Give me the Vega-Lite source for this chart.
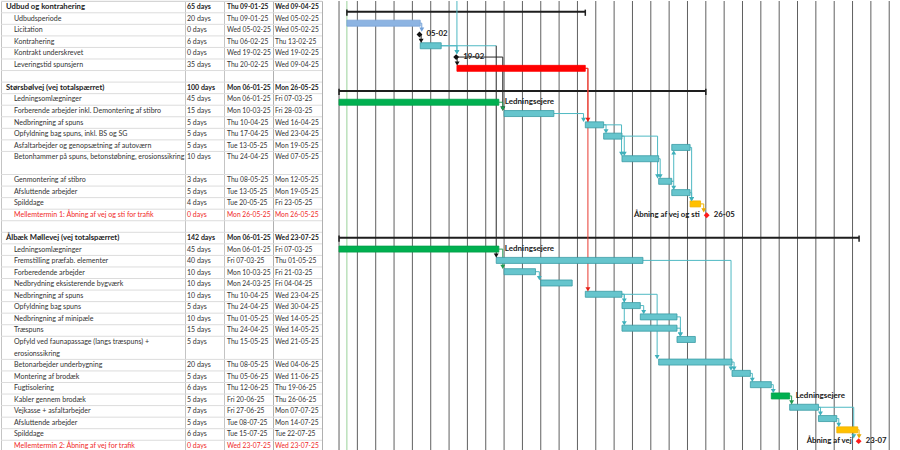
{
  "$schema": "https://vega.github.io/schema/vega-lite/v6.json",
  "background": "white",
  "padding": 0,
  "spacing": 0,
  "bounds": "flush",
  "config": {"view": {"stroke": null}},
  "datasets": {
    "tasks": [
      {"row": 0, "lvl": "sum", "name": "Udbud og kontrahering", "dur": "65 days", "st": "Thu 09-01-25", "fi": "Wed 09-04-25", "s": "2025-01-09", "e": "2025-04-10"},
      {"row": 1, "lvl": "task", "name": "Udbudsperiode", "dur": "20 days", "st": "Thu 09-01-25", "fi": "Wed 05-02-25", "s": "2025-01-09", "e": "2025-02-06", "kind": "blue"},
      {"row": 2, "lvl": "task", "name": "Licitation", "dur": "0 days", "st": "Wed 05-02-25", "fi": "Wed 05-02-25", "m": "2025-02-05T17:00:00Z", "kind": "ms", "lab": "05-02"},
      {"row": 3, "lvl": "task", "name": "Kontrahering", "dur": "6 days", "st": "Thu 06-02-25", "fi": "Thu 13-02-25", "s": "2025-02-06", "e": "2025-02-14", "kind": "teal"},
      {"row": 4, "lvl": "task", "name": "Kontrakt underskrevet", "dur": "0 days", "st": "Wed 19-02-25", "fi": "Wed 19-02-25", "m": "2025-02-19T17:00:00Z", "kind": "ms", "lab": "19-02"},
      {"row": 5, "lvl": "task", "name": "Leveringstid spunsjern", "dur": "35 days", "st": "Thu 20-02-25", "fi": "Wed 09-04-25", "s": "2025-02-20", "e": "2025-04-10", "kind": "red"},
      {"row": 6, "lvl": "blank"},
      {"row": 7, "lvl": "sum", "name": "Størsbølvej (vej totalspærret)", "dur": "100 days", "st": "Mon 06-01-25", "fi": "Mon 26-05-25", "s": "2025-01-06", "e": "2025-05-26"},
      {"row": 8, "lvl": "task", "name": "Ledningsomlægninger", "dur": "45 days", "st": "Mon 06-01-25", "fi": "Fri 07-03-25", "s": "2025-01-06", "e": "2025-03-08", "kind": "green", "lab": "Ledningsejere"},
      {"row": 9, "lvl": "task", "name": "Forberende arbejder inkl. Demontering af stibro", "dur": "15 days", "st": "Mon 10-03-25", "fi": "Fri 28-03-25", "s": "2025-03-10", "e": "2025-03-29", "kind": "teal"},
      {"row": 10, "lvl": "task", "name": "Nedbringning af spuns", "dur": "5 days", "st": "Thu 10-04-25", "fi": "Wed 16-04-25", "s": "2025-04-10", "e": "2025-04-17", "kind": "teal"},
      {"row": 11, "lvl": "task", "name": "Opfyldning bag spuns, inkl. BS og SG", "dur": "5 days", "st": "Thu 17-04-25", "fi": "Wed 23-04-25", "s": "2025-04-17", "e": "2025-04-24", "kind": "teal"},
      {"row": 12, "lvl": "task", "name": "Asfaltarbejder og genopsætning af autoværn", "dur": "5 days", "st": "Tue 13-05-25", "fi": "Mon 19-05-25", "s": "2025-05-13", "e": "2025-05-20", "kind": "teal"},
      {"row": 13, "lvl": "task", "name": "Betonhammer på spuns, betonstøbning, erosionssikring", "dur": "10 days", "st": "Thu 24-04-25", "fi": "Wed 07-05-25", "s": "2025-04-24", "e": "2025-05-08", "kind": "teal"},
      {"row": 14, "lvl": "cont"},
      {"row": 15, "lvl": "task", "name": "Genmontering af stibro", "dur": "3 days", "st": "Thu 08-05-25", "fi": "Mon 12-05-25", "s": "2025-05-08", "e": "2025-05-13", "kind": "teal"},
      {"row": 16, "lvl": "task", "name": "Afsluttende arbejder", "dur": "5 days", "st": "Tue 13-05-25", "fi": "Mon 19-05-25", "s": "2025-05-13", "e": "2025-05-20", "kind": "teal"},
      {"row": 17, "lvl": "task", "name": "Spilddage", "dur": "4 days", "st": "Tue 20-05-25", "fi": "Fri 23-05-25", "s": "2025-05-20", "e": "2025-05-24", "kind": "yellow"},
      {"row": 18, "lvl": "task", "name": "Mellemtermin 1: Åbning af vej og sti for trafik", "dur": "0 days", "st": "Mon 26-05-25", "fi": "Mon 26-05-25", "m": "2025-05-26T08:00:00Z", "kind": "mr", "lab": "26-05", "labL": "Åbning af vej og sti", "hot": true},
      {"row": 19, "lvl": "blank"},
      {"row": 20, "lvl": "sum", "name": "Ålbæk Møllevej (vej totalspærret)", "dur": "142 days", "st": "Mon 06-01-25", "fi": "Wed 23-07-25", "s": "2025-01-06", "e": "2025-07-23T12:00:00Z"},
      {"row": 21, "lvl": "task", "name": "Ledningsomlægninger", "dur": "45 days", "st": "Mon 06-01-25", "fi": "Fri 07-03-25", "s": "2025-01-06", "e": "2025-03-08", "kind": "green", "lab": "Ledningsejere"},
      {"row": 22, "lvl": "task", "name": "Fremstilling præfab. elementer", "dur": "40 days", "st": "Fri 07-03-25", "fi": "Thu 01-05-25", "s": "2025-03-07", "e": "2025-05-02", "kind": "teal"},
      {"row": 23, "lvl": "task", "name": "Forberedende arbejder", "dur": "10 days", "st": "Mon 10-03-25", "fi": "Fri 21-03-25", "s": "2025-03-10", "e": "2025-03-22", "kind": "teal"},
      {"row": 24, "lvl": "task", "name": "Nedbrydning eksisterende bygværk", "dur": "10 days", "st": "Mon 24-03-25", "fi": "Fri 04-04-25", "s": "2025-03-24", "e": "2025-04-05", "kind": "teal"},
      {"row": 25, "lvl": "task", "name": "Nedbringning af spuns", "dur": "10 days", "st": "Thu 10-04-25", "fi": "Wed 23-04-25", "s": "2025-04-10", "e": "2025-04-24", "kind": "teal"},
      {"row": 26, "lvl": "task", "name": "Opfyldning bag spuns", "dur": "5 days", "st": "Thu 24-04-25", "fi": "Wed 30-04-25", "s": "2025-04-24", "e": "2025-05-01", "kind": "teal"},
      {"row": 27, "lvl": "task", "name": "Nedbringning af minipæle", "dur": "10 days", "st": "Thu 01-05-25", "fi": "Wed 14-05-25", "s": "2025-05-01", "e": "2025-05-15", "kind": "teal"},
      {"row": 28, "lvl": "task", "name": "Træspuns", "dur": "15 days", "st": "Thu 24-04-25", "fi": "Wed 14-05-25", "s": "2025-04-24", "e": "2025-05-15", "kind": "teal"},
      {"row": 29, "lvl": "task", "name": "Opfyld ved faunapassage (langs træspuns) +", "dur": "5 days", "st": "Thu 15-05-25", "fi": "Wed 21-05-25", "s": "2025-05-15", "e": "2025-05-22", "kind": "teal"},
      {"row": 30, "lvl": "cont", "name": "erosionssikring"},
      {"row": 31, "lvl": "task", "name": "Betonarbejder underbygning", "dur": "20 days", "st": "Thu 08-05-25", "fi": "Wed 04-06-25", "s": "2025-05-08", "e": "2025-06-05", "kind": "teal"},
      {"row": 32, "lvl": "task", "name": "Montering af brodæk", "dur": "5 days", "st": "Thu 05-06-25", "fi": "Wed 11-06-25", "s": "2025-06-05", "e": "2025-06-12", "kind": "teal"},
      {"row": 33, "lvl": "task", "name": "Fugtisolering", "dur": "6 days", "st": "Thu 12-06-25", "fi": "Thu 19-06-25", "s": "2025-06-12", "e": "2025-06-20", "kind": "teal"},
      {"row": 34, "lvl": "task", "name": "Kabler gennem brodæk", "dur": "5 days", "st": "Fri 20-06-25", "fi": "Thu 26-06-25", "s": "2025-06-20", "e": "2025-06-27", "kind": "green", "lab": "Ledningsejere"},
      {"row": 35, "lvl": "task", "name": "Vejkasse + asfaltarbejder", "dur": "7 days", "st": "Fri 27-06-25", "fi": "Mon 07-07-25", "s": "2025-06-27", "e": "2025-07-08", "kind": "teal"},
      {"row": 36, "lvl": "task", "name": "Afsluttende arbejder", "dur": "5 days", "st": "Tue 08-07-25", "fi": "Mon 14-07-25", "s": "2025-07-08", "e": "2025-07-15", "kind": "teal"},
      {"row": 37, "lvl": "task", "name": "Spilddage", "dur": "6 days", "st": "Tue 15-07-25", "fi": "Tue 22-07-25", "s": "2025-07-15", "e": "2025-07-23", "kind": "yellow"},
      {"row": 38, "lvl": "task", "name": "Mellemtermin 2: Åbning af vej for trafik", "dur": "0 days", "st": "Wed 23-07-25", "fi": "Wed 23-07-25", "m": "2025-07-23T08:00:00Z", "kind": "mr", "lab": "23-07", "labL": "Åbning af vej", "hot": true}
    ],
    "links": [
      {"pe": "2025-02-06", "el": "2025-02-06T14:00:00Z", "r1": 1, "r2": 2, "hc": "blue", "vc": "blue"},
      {"pe": "2025-02-05T17:00:00Z", "el": "2025-02-06T08:00:00Z", "r1": 2, "r2": 3, "hc": "black", "vc": "black"},
      {"pe": "2025-02-14", "el": "2025-02-20", "r1": 3, "r2": 4, "hc": "teal", "vc": "teal"},
      {"pe": "2025-02-20", "el": "2025-02-20", "r1": -2, "r2": 4, "hc": "teal", "vc": "teal"},
      {"pe": "2025-02-19T17:00:00Z", "el": "2025-02-20T02:00:00Z", "r1": 4, "r2": 5, "hc": "black", "vc": "black"},
      {"pe": "2025-02-19T17:00:00Z", "el": "2025-03-09T12:00:00Z", "r1": 4, "r2": 9, "hc": "black", "vc": "black"},
      {"pe": "2025-02-14", "el": "2025-03-07", "r1": 3, "r2": 22, "hc": "teal", "vc": "black"},
      {"pe": "2025-03-08", "el": "2025-03-09T12:00:00Z", "r1": 8, "r2": 9, "hc": "green", "vc": "green"},
      {"pe": "2025-03-08", "el": "2025-03-09T12:00:00Z", "r1": 21, "r2": 23, "hc": "green", "vc": "green"},
      {"pe": "2025-03-29", "el": "2025-04-09T08:00:00Z", "r1": 9, "r2": 10, "hc": "teal", "vc": "teal"},
      {"pe": "2025-04-10", "el": "2025-04-11", "r1": 5, "r2": 10, "hc": "red", "vc": "red"},
      {"pe": "2025-04-10", "el": "2025-04-11", "r1": 5, "r2": 25, "hc": "red", "vc": "red"},
      {"pe": "2025-04-17", "el": "2025-04-17T22:00:00Z", "r1": 10, "r2": 11, "hc": "teal", "vc": "teal"},
      {"pe": "2025-04-17", "el": "2025-04-23T20:00:00Z", "r1": 10, "r2": 13, "hc": "teal", "vc": "teal"},
      {"pe": "2025-04-24", "el": "2025-04-24T21:00:00Z", "r1": 11, "r2": 13, "hc": "teal", "vc": "teal"},
      {"pe": "2025-04-24", "el": "2025-05-07T14:00:00Z", "r1": 11, "r2": 15, "hc": "teal", "vc": "teal"},
      {"pe": "2025-05-08", "el": "2025-05-08T14:00:00Z", "r1": 13, "r2": 15, "hc": "teal", "vc": "teal"},
      {"pe": "2025-05-13", "el": "2025-05-13T18:00:00Z", "r1": 15, "r2": 12, "hc": "teal", "vc": "teal"},
      {"pe": "2025-05-13", "el": "2025-05-13T18:00:00Z", "r1": 15, "r2": 16, "hc": "teal", "vc": "teal"},
      {"pe": "2025-05-20", "el": "2025-05-20T14:00:00Z", "r1": 12, "r2": 17, "hc": "teal", "vc": "teal"},
      {"pe": "2025-05-20", "el": "2025-05-20T14:00:00Z", "r1": 16, "r2": 17, "hc": "teal", "vc": "teal"},
      {"pe": "2025-05-24", "el": "2025-05-25T05:00:00Z", "r1": 17, "r2": 18, "hc": "yellow", "vc": "yellow"},
      {"pe": "2025-03-22", "el": "2025-03-23T11:00:00Z", "r1": 23, "r2": 24, "hc": "teal", "vc": "teal"},
      {"pe": "2025-04-24", "el": "2025-04-24T21:00:00Z", "r1": 25, "r2": 26, "hc": "teal", "vc": "teal"},
      {"pe": "2025-04-24", "el": "2025-04-24T21:00:00Z", "r1": 25, "r2": 28, "hc": "teal", "vc": "teal"},
      {"pe": "2025-04-24", "el": "2025-05-07T10:00:00Z", "r1": 25, "r2": 31, "hc": "teal", "vc": "teal"},
      {"pe": "2025-05-01", "el": "2025-05-02T07:00:00Z", "r1": 26, "r2": 27, "hc": "teal", "vc": "teal"},
      {"pe": "2025-05-15", "el": "2025-05-16T07:00:00Z", "r1": 27, "r2": 29, "hc": "teal", "vc": "teal"},
      {"pe": "2025-05-15", "el": "2025-05-16T07:00:00Z", "r1": 28, "r2": 29, "hc": "teal", "vc": "teal"},
      {"pe": "2025-05-02", "el": "2025-06-04T15:00:00Z", "r1": 22, "r2": 32, "hc": "teal", "vc": "teal"},
      {"pe": "2025-06-05", "el": "2025-06-05T19:00:00Z", "r1": 31, "r2": 32, "hc": "teal", "vc": "teal"},
      {"pe": "2025-06-12", "el": "2025-06-12T18:00:00Z", "r1": 32, "r2": 33, "hc": "teal", "vc": "teal"},
      {"pe": "2025-06-20", "el": "2025-06-20T18:00:00Z", "r1": 33, "r2": 34, "hc": "teal", "vc": "teal"},
      {"pe": "2025-06-27", "el": "2025-06-27T18:00:00Z", "r1": 34, "r2": 35, "hc": "green", "vc": "green"},
      {"pe": "2025-07-08", "el": "2025-07-08T18:00:00Z", "r1": 35, "r2": 36, "hc": "teal", "vc": "teal"},
      {"pe": "2025-07-15", "el": "2025-07-15T18:00:00Z", "r1": 36, "r2": 37, "hc": "teal", "vc": "teal"},
      {"pe": "2025-07-23", "el": "2025-07-23T12:00:00Z", "r1": 37, "r2": 38, "hc": "yellow", "vc": "yellow"},
      {"pe": "2025-07-08", "el": "2025-07-21T11:00:00Z", "r1": 35, "r2": 38, "hc": "teal", "vc": "teal"}
    ],
    "weeks": [
      {"d": "2025-01-06"}, {"d": "2025-01-13"}, {"d": "2025-01-20"}, {"d": "2025-01-27"},
      {"d": "2025-02-03"}, {"d": "2025-02-10"}, {"d": "2025-02-17"}, {"d": "2025-02-24"},
      {"d": "2025-03-03"}, {"d": "2025-03-10"}, {"d": "2025-03-17"}, {"d": "2025-03-24"}, {"d": "2025-03-31"},
      {"d": "2025-04-07"}, {"d": "2025-04-14"}, {"d": "2025-04-21"}, {"d": "2025-04-28"},
      {"d": "2025-05-05"}, {"d": "2025-05-12"}, {"d": "2025-05-19"}, {"d": "2025-05-26"},
      {"d": "2025-06-02"}, {"d": "2025-06-09"}, {"d": "2025-06-16"}, {"d": "2025-06-23"}, {"d": "2025-06-30"},
      {"d": "2025-07-07"}, {"d": "2025-07-14"}, {"d": "2025-07-21"}, {"d": "2025-07-28"},
      {"d": "2025-08-04"}
    ],
    "status": [{"d": "2025-01-09"}]
  },
  "hconcat": [
    {
      "width": 184, "height": 450,
      "view": {"stroke": "#c4c4c4"},
      "data": {"name": "tasks"},
      "layer": [
        {"transform": [{"filter": "datum.lvl != 'cont'"}, {"calculate": "datum.row - 0.5", "as": "top"}],
         "mark": {"type": "rule", "color": "#dcdcdc", "strokeWidth": 1},
         "encoding": {"y": {"field": "top", "type": "quantitative", "scale": {"domain": [-0.52, 38.43], "reverse": true, "nice": false, "zero": false}, "axis": null}}},
        {"transform": [{"filter": "datum.lvl == 'sum'"}],
         "mark": {"type": "text", "align": "left", "baseline": "middle", "dx": 5, "font": "Lato", "fontSize": 7.7, "fontWeight": "bold", "color": "#222"},
         "encoding": {"x": {"datum": 0, "type": "quantitative", "scale": {"domain": [0, 1]}, "axis": null},
                      "y": {"field": "row", "type": "quantitative", "scale": {"domain": [-0.52, 38.43], "reverse": true, "nice": false, "zero": false}, "axis": null},
                      "text": {"field": "name"}}},
        {"transform": [{"filter": "(datum.lvl == 'task' || datum.lvl == 'cont') && datum.name"}],
         "mark": {"type": "text", "align": "left", "baseline": "middle", "dx": 13, "font": "Lato", "fontSize": 7.05},
         "encoding": {"x": {"datum": 0, "type": "quantitative", "scale": {"domain": [0, 1]}, "axis": null},
                      "y": {"field": "row", "type": "quantitative", "scale": {"domain": [-0.52, 38.43], "reverse": true, "nice": false, "zero": false}, "axis": null},
                      "text": {"field": "name"},
                      "color": {"condition": {"test": "datum.hot === true", "value": "#f02828"}, "value": "#333333"}}}
      ]
    },
    {
      "width": 39, "height": 450,
      "view": {"stroke": "#c4c4c4"},
      "data": {"name": "tasks"},
      "layer": [
        {"transform": [{"filter": "datum.lvl != 'cont'"}, {"calculate": "datum.row - 0.5", "as": "top"}],
         "mark": {"type": "rule", "color": "#dcdcdc", "strokeWidth": 1},
         "encoding": {"y": {"field": "top", "type": "quantitative", "scale": {"domain": [-0.52, 38.43], "reverse": true, "nice": false, "zero": false}, "axis": null}}},
        {"transform": [{"filter": "datum.lvl == 'sum'"}],
         "mark": {"type": "text", "align": "left", "baseline": "middle", "dx": 2, "font": "Lato", "fontSize": 7, "fontWeight": "bold", "color": "#222"},
         "encoding": {"x": {"datum": 0, "type": "quantitative", "scale": {"domain": [0, 1]}, "axis": null},
                      "y": {"field": "row", "type": "quantitative", "scale": {"domain": [-0.52, 38.43], "reverse": true, "nice": false, "zero": false}, "axis": null},
                      "text": {"field": "dur"}}},
        {"transform": [{"filter": "datum.lvl == 'task' && datum.dur"}],
         "mark": {"type": "text", "align": "left", "baseline": "middle", "dx": 2, "font": "Lato", "fontSize": 7},
         "encoding": {"x": {"datum": 0, "type": "quantitative", "scale": {"domain": [0, 1]}, "axis": null},
                      "y": {"field": "row", "type": "quantitative", "scale": {"domain": [-0.52, 38.43], "reverse": true, "nice": false, "zero": false}, "axis": null},
                      "text": {"field": "dur"},
                      "color": {"condition": {"test": "datum.hot === true", "value": "#f02828"}, "value": "#333333"}}}
      ]
    },
    {
      "width": 49, "height": 450,
      "view": {"stroke": "#c4c4c4"},
      "data": {"name": "tasks"},
      "layer": [
        {"transform": [{"filter": "datum.lvl != 'cont'"}, {"calculate": "datum.row - 0.5", "as": "top"}],
         "mark": {"type": "rule", "color": "#dcdcdc", "strokeWidth": 1},
         "encoding": {"y": {"field": "top", "type": "quantitative", "scale": {"domain": [-0.52, 38.43], "reverse": true, "nice": false, "zero": false}, "axis": null}}},
        {"transform": [{"filter": "datum.lvl == 'sum'"}],
         "mark": {"type": "text", "align": "left", "baseline": "middle", "dx": 3, "font": "Lato", "fontSize": 6.7, "fontWeight": "bold", "color": "#222"},
         "encoding": {"x": {"datum": 0, "type": "quantitative", "scale": {"domain": [0, 1]}, "axis": null},
                      "y": {"field": "row", "type": "quantitative", "scale": {"domain": [-0.52, 38.43], "reverse": true, "nice": false, "zero": false}, "axis": null},
                      "text": {"field": "st"}}},
        {"transform": [{"filter": "datum.lvl == 'task' && datum.st"}],
         "mark": {"type": "text", "align": "left", "baseline": "middle", "dx": 3, "font": "Lato", "fontSize": 6.7},
         "encoding": {"x": {"datum": 0, "type": "quantitative", "scale": {"domain": [0, 1]}, "axis": null},
                      "y": {"field": "row", "type": "quantitative", "scale": {"domain": [-0.52, 38.43], "reverse": true, "nice": false, "zero": false}, "axis": null},
                      "text": {"field": "st"},
                      "color": {"condition": {"test": "datum.hot === true", "value": "#f02828"}, "value": "#333333"}}}
      ]
    },
    {
      "width": 49, "height": 450,
      "view": {"stroke": "#b0b0b0"},
      "data": {"name": "tasks"},
      "layer": [
        {"transform": [{"filter": "datum.lvl != 'cont'"}, {"calculate": "datum.row - 0.5", "as": "top"}],
         "mark": {"type": "rule", "color": "#dcdcdc", "strokeWidth": 1},
         "encoding": {"y": {"field": "top", "type": "quantitative", "scale": {"domain": [-0.52, 38.43], "reverse": true, "nice": false, "zero": false}, "axis": null}}},
        {"transform": [{"filter": "datum.lvl == 'sum'"}],
         "mark": {"type": "text", "align": "left", "baseline": "middle", "dx": 2, "font": "Lato", "fontSize": 6.7, "fontWeight": "bold", "color": "#222"},
         "encoding": {"x": {"datum": 0, "type": "quantitative", "scale": {"domain": [0, 1]}, "axis": null},
                      "y": {"field": "row", "type": "quantitative", "scale": {"domain": [-0.52, 38.43], "reverse": true, "nice": false, "zero": false}, "axis": null},
                      "text": {"field": "fi"}}},
        {"transform": [{"filter": "datum.lvl == 'task' && datum.fi"}],
         "mark": {"type": "text", "align": "left", "baseline": "middle", "dx": 2, "font": "Lato", "fontSize": 6.7},
         "encoding": {"x": {"datum": 0, "type": "quantitative", "scale": {"domain": [0, 1]}, "axis": null},
                      "y": {"field": "row", "type": "quantitative", "scale": {"domain": [-0.52, 38.43], "reverse": true, "nice": false, "zero": false}, "axis": null},
                      "text": {"field": "fi"},
                      "color": {"condition": {"test": "datum.hot === true", "value": "#f02828"}, "value": "#333333"}}}
      ]
    },
    {
      "width": 579, "height": 450,
      "resolve": {"scale": {"color": "independent", "stroke": "independent", "shape": "independent"}},
      "layer": [
        {"data": {"name": "weeks"},
         "mark": {"type": "rule", "color": "#606060", "strokeWidth": 1},
         "encoding": {"x": {"field": "d", "type": "temporal", "scale": {"type": "utc", "domain": [{"year": 2024, "month": 12, "date": 30, "hours": 12, "utc": true}, {"year": 2025, "month": 8, "date": 8, "hours": 12, "utc": true}]}, "axis": null}}},
        {"data": {"name": "status"},
         "mark": {"type": "rule", "color": "#9ad39a", "strokeWidth": 1},
         "encoding": {"x": {"field": "d", "type": "temporal", "scale": {"type": "utc", "domain": [{"year": 2024, "month": 12, "date": 30, "hours": 12, "utc": true}, {"year": 2025, "month": 8, "date": 8, "hours": 12, "utc": true}]}, "axis": null}}},
        {"data": {"name": "tasks"},
         "transform": [{"filter": "datum.lvl == 'sum'"}],
         "mark": {"type": "bar", "size": 2, "color": "#1e1e1e"},
         "encoding": {"x": {"field": "s", "type": "temporal", "scale": {"type": "utc", "domain": [{"year": 2024, "month": 12, "date": 30, "hours": 12, "utc": true}, {"year": 2025, "month": 8, "date": 8, "hours": 12, "utc": true}]}, "axis": null},
                      "x2": {"field": "e"},
                      "y": {"field": "row", "type": "quantitative", "scale": {"domain": [-0.52, 38.43], "reverse": true, "nice": false, "zero": false}, "axis": null}}},
        {"data": {"name": "tasks"},
         "transform": [{"filter": "datum.lvl == 'sum'"}, {"calculate": "datum.row - 0.2", "as": "t1"}, {"calculate": "datum.row + 0.35", "as": "t2"}],
         "mark": {"type": "rule", "color": "#1e1e1e", "strokeWidth": 1.5},
         "encoding": {"x": {"field": "s", "type": "temporal", "scale": {"type": "utc", "domain": [{"year": 2024, "month": 12, "date": 30, "hours": 12, "utc": true}, {"year": 2025, "month": 8, "date": 8, "hours": 12, "utc": true}]}, "axis": null},
                      "y": {"field": "t1", "type": "quantitative", "scale": {"domain": [-0.52, 38.43], "reverse": true, "nice": false, "zero": false}, "axis": null},
                      "y2": {"field": "t2"}}},
        {"data": {"name": "tasks"},
         "transform": [{"filter": "datum.lvl == 'sum'"}, {"calculate": "datum.row - 0.2", "as": "t1"}, {"calculate": "datum.row + 0.35", "as": "t2"}],
         "mark": {"type": "rule", "color": "#1e1e1e", "strokeWidth": 1.5},
         "encoding": {"x": {"field": "e", "type": "temporal", "scale": {"type": "utc", "domain": [{"year": 2024, "month": 12, "date": 30, "hours": 12, "utc": true}, {"year": 2025, "month": 8, "date": 8, "hours": 12, "utc": true}]}, "axis": null},
                      "y": {"field": "t1", "type": "quantitative", "scale": {"domain": [-0.52, 38.43], "reverse": true, "nice": false, "zero": false}, "axis": null},
                      "y2": {"field": "t2"}}},
        {"data": {"name": "links"},
         "mark": {"type": "rule", "strokeWidth": 1, "clip": true},
         "encoding": {"x": {"field": "pe", "type": "temporal", "scale": {"type": "utc", "domain": [{"year": 2024, "month": 12, "date": 30, "hours": 12, "utc": true}, {"year": 2025, "month": 8, "date": 8, "hours": 12, "utc": true}]}, "axis": null},
                      "x2": {"field": "el"},
                      "y": {"field": "r1", "type": "quantitative", "scale": {"domain": [-0.52, 38.43], "reverse": true, "nice": false, "zero": false}, "axis": null},
                      "color": {"field": "hc", "type": "nominal", "legend": null, "scale": {"domain": ["blue", "teal", "red", "green", "yellow", "black"], "range": ["#6f9fd8", "#4fb9c3", "#e83a30", "#2ca25a", "#efb300", "#262626"]}}}},
        {"data": {"name": "links"},
         "transform": [{"calculate": "datum.r2 > datum.r1 ? datum.r2 - 0.5 : datum.r2 + 0.5", "as": "tip"}],
         "mark": {"type": "rule", "strokeWidth": 1, "clip": true},
         "encoding": {"x": {"field": "el", "type": "temporal", "scale": {"type": "utc", "domain": [{"year": 2024, "month": 12, "date": 30, "hours": 12, "utc": true}, {"year": 2025, "month": 8, "date": 8, "hours": 12, "utc": true}]}, "axis": null},
                      "y": {"field": "r1", "type": "quantitative", "scale": {"domain": [-0.52, 38.43], "reverse": true, "nice": false, "zero": false}, "axis": null},
                      "y2": {"field": "tip"},
                      "color": {"field": "vc", "type": "nominal", "legend": null, "scale": {"domain": ["blue", "teal", "red", "green", "yellow", "black"], "range": ["#6f9fd8", "#4fb9c3", "#e83a30", "#2ca25a", "#efb300", "#262626"]}}}},
        {"data": {"name": "tasks"},
         "transform": [{"filter": "datum.lvl == 'task' && datum.s"}],
         "mark": {"type": "bar", "size": 6, "strokeWidth": 0.8},
         "encoding": {"x": {"field": "s", "type": "temporal", "scale": {"type": "utc", "domain": [{"year": 2024, "month": 12, "date": 30, "hours": 12, "utc": true}, {"year": 2025, "month": 8, "date": 8, "hours": 12, "utc": true}]}, "axis": null},
                      "x2": {"field": "e"},
                      "y": {"field": "row", "type": "quantitative", "scale": {"domain": [-0.52, 38.43], "reverse": true, "nice": false, "zero": false}, "axis": null},
                      "color": {"field": "kind", "type": "nominal", "legend": null, "scale": {"domain": ["blue", "teal", "red", "green", "yellow"], "range": ["#8db4e2", "#66c5cd", "#ff0000", "#00b050", "#ffc000"]}},
                      "stroke": {"field": "kind", "type": "nominal", "legend": null, "scale": {"domain": ["blue", "teal", "red", "green", "yellow"], "range": ["#7aa3d6", "#3a9ca5", "#ff0000", "#00a048", "#f0b000"]}}}},
        {"data": {"name": "links"},
         "transform": [{"calculate": "datum.r2 > datum.r1 ? datum.r2 - 0.43 : datum.r2 + 0.43", "as": "ay"}, {"calculate": "datum.r2 > datum.r1 ? 'down' : 'up'", "as": "dir"}],
         "mark": {"type": "point", "filled": true, "size": 24, "opacity": 1},
         "encoding": {"x": {"field": "el", "type": "temporal", "scale": {"type": "utc", "domain": [{"year": 2024, "month": 12, "date": 30, "hours": 12, "utc": true}, {"year": 2025, "month": 8, "date": 8, "hours": 12, "utc": true}]}, "axis": null},
                      "y": {"field": "ay", "type": "quantitative", "scale": {"domain": [-0.52, 38.43], "reverse": true, "nice": false, "zero": false}, "axis": null},
                      "shape": {"field": "dir", "type": "nominal", "legend": null, "scale": {"domain": ["down", "up"], "range": ["triangle-down", "triangle-up"]}},
                      "color": {"field": "vc", "type": "nominal", "legend": null, "scale": {"domain": ["blue", "teal", "red", "green", "yellow", "black"], "range": ["#6f9fd8", "#3fb0bb", "#e41e14", "#1f9a50", "#e8aa00", "#111111"]}}}},
        {"data": {"name": "tasks"},
         "transform": [{"filter": "datum.m"}],
         "mark": {"type": "point", "shape": "diamond", "filled": true, "size": 34, "opacity": 1},
         "encoding": {"x": {"field": "m", "type": "temporal", "scale": {"type": "utc", "domain": [{"year": 2024, "month": 12, "date": 30, "hours": 12, "utc": true}, {"year": 2025, "month": 8, "date": 8, "hours": 12, "utc": true}]}, "axis": null},
                      "y": {"field": "row", "type": "quantitative", "scale": {"domain": [-0.52, 38.43], "reverse": true, "nice": false, "zero": false}, "axis": null},
                      "color": {"field": "kind", "type": "nominal", "legend": null, "scale": {"domain": ["ms", "mr"], "range": ["#111111", "#ff1a1a"]}}}},
        {"data": {"name": "tasks"},
         "transform": [{"filter": "datum.lab && datum.s"}],
         "mark": {"type": "text", "align": "left", "baseline": "middle", "dx": 6, "font": "Lato", "fontSize": 8, "fontWeight": "bold", "color": "#1a1a1a"},
         "encoding": {"x": {"field": "e", "type": "temporal", "scale": {"type": "utc", "domain": [{"year": 2024, "month": 12, "date": 30, "hours": 12, "utc": true}, {"year": 2025, "month": 8, "date": 8, "hours": 12, "utc": true}]}, "axis": null},
                      "y": {"field": "row", "type": "quantitative", "scale": {"domain": [-0.52, 38.43], "reverse": true, "nice": false, "zero": false}, "axis": null},
                      "text": {"field": "lab"}}},
        {"data": {"name": "tasks"},
         "transform": [{"filter": "datum.lab && datum.m"}],
         "mark": {"type": "text", "align": "left", "baseline": "middle", "dx": 7, "font": "Lato", "fontSize": 7.8, "fontWeight": "bold", "color": "#1a1a1a"},
         "encoding": {"x": {"field": "m", "type": "temporal", "scale": {"type": "utc", "domain": [{"year": 2024, "month": 12, "date": 30, "hours": 12, "utc": true}, {"year": 2025, "month": 8, "date": 8, "hours": 12, "utc": true}]}, "axis": null},
                      "y": {"field": "row", "type": "quantitative", "scale": {"domain": [-0.52, 38.43], "reverse": true, "nice": false, "zero": false}, "axis": null},
                      "text": {"field": "lab"}}},
        {"data": {"name": "tasks"},
         "transform": [{"filter": "datum.labL"}],
         "mark": {"type": "text", "align": "right", "baseline": "middle", "dx": -7, "font": "Lato", "fontSize": 7.8, "fontWeight": "bold", "color": "#1a1a1a"},
         "encoding": {"x": {"field": "m", "type": "temporal", "scale": {"type": "utc", "domain": [{"year": 2024, "month": 12, "date": 30, "hours": 12, "utc": true}, {"year": 2025, "month": 8, "date": 8, "hours": 12, "utc": true}]}, "axis": null},
                      "y": {"field": "row", "type": "quantitative", "scale": {"domain": [-0.52, 38.43], "reverse": true, "nice": false, "zero": false}, "axis": null},
                      "text": {"field": "labL"}}}
      ]
    }
  ]
}
